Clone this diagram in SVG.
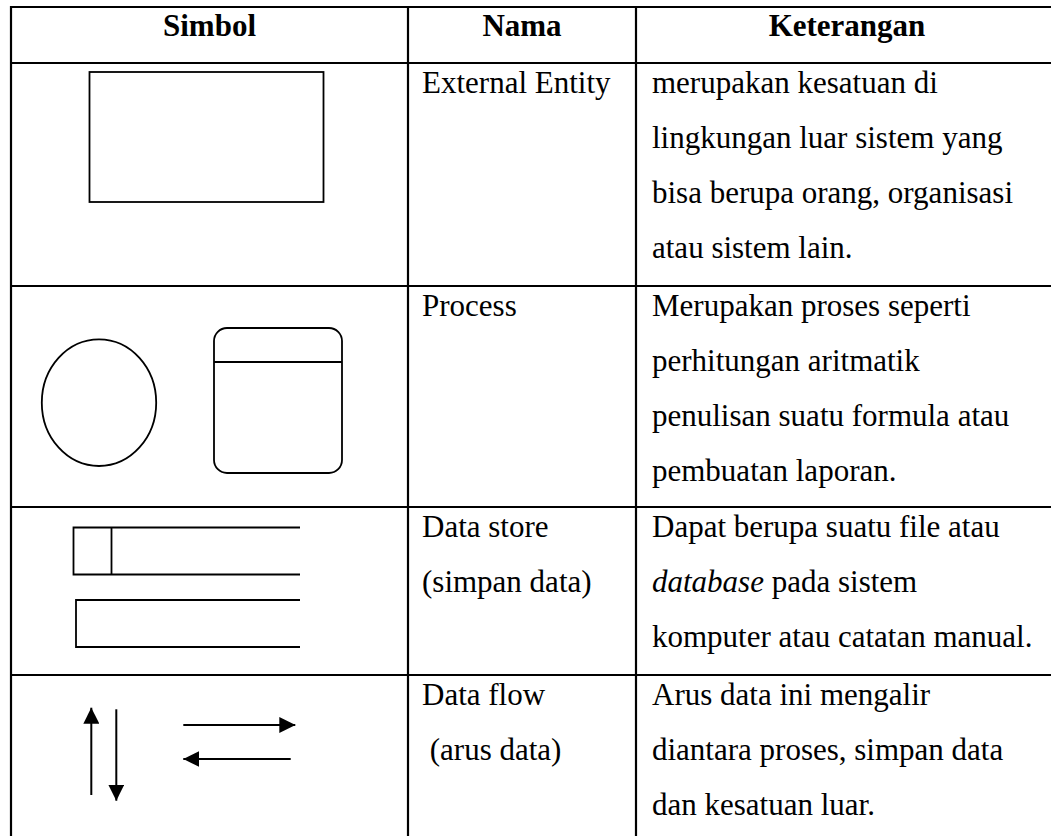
<svg xmlns="http://www.w3.org/2000/svg" width="1051" height="836" viewBox="0 0 1051 836">
<style>
.grid{stroke:#000;stroke-width:2.2;fill:none}
.shape{stroke:#000;stroke-width:1.8;fill:none}
.t{font-family:"Liberation Serif","Times New Roman",serif;font-size:31px;fill:#000}
.h{font-weight:bold;text-anchor:middle}
</style>
<defs>
<marker id="ah" viewBox="0 0 16 16" refX="16" refY="8" markerWidth="16" markerHeight="16" markerUnits="userSpaceOnUse" orient="auto">
<path d="M0,0 L16,8 L0,16 Z" fill="#000"/>
</marker>
</defs>
<rect width="1051" height="836" fill="#fff"/>
<g id="table" class="grid">
<line x1="11" y1="7" x2="1051" y2="7"/>
<line x1="11" y1="63" x2="1051" y2="63"/>
<line x1="11" y1="286" x2="1051" y2="286"/>
<line x1="11" y1="507" x2="1051" y2="507"/>
<line x1="11" y1="675" x2="1051" y2="675"/>
<line x1="11" y1="6" x2="11" y2="836"/>
<line x1="408" y1="6" x2="408" y2="836"/>
<line x1="636" y1="6" x2="636" y2="836"/>
</g>
<g id="header" class="t h">
<text x="209.5" y="36">Simbol</text>
<text x="522" y="36">Nama</text>
<text x="847" y="36">Keterangan</text>
</g>
<g id="external-entity">
<rect class="shape" x="89.5" y="72" width="234" height="130"/>
<text class="t" x="422" y="93">External Entity</text>
<text class="t" x="652" y="93">merupakan kesatuan di</text>
<text class="t" x="652" y="148">lingkungan luar sistem yang</text>
<text class="t" x="652" y="203">bisa berupa orang, organisasi</text>
<text class="t" x="652" y="258">atau sistem lain.</text>
</g>
<g id="process">
<ellipse class="shape" cx="99" cy="402.7" rx="57.2" ry="63.3"/>
<rect class="shape" x="214" y="328" width="128" height="145" rx="13" ry="13"/>
<line class="shape" x1="214" y1="362" x2="342" y2="362"/>
<text class="t" x="422" y="316">Process</text>
<text class="t" x="652" y="316">Merupakan proses seperti</text>
<text class="t" x="652" y="371">perhitungan aritmatik</text>
<text class="t" x="652" y="426">penulisan suatu formula atau</text>
<text class="t" x="652" y="481">pembuatan laporan.</text>
</g>
<g id="data-store">
<path class="shape" d="M300,527.5 L73.5,527.5 L73.5,574.5 L300,574.5 M111.5,527.5 L111.5,574.5"/>
<path class="shape" d="M300,600 L76,600 L76,647 L300,647"/>
<text class="t" x="422" y="537">Data store</text>
<text class="t" x="422" y="592">(simpan data)</text>
<text class="t" x="652" y="537">Dapat berupa suatu file atau</text>
<text class="t" x="652" y="592"><tspan font-style="italic">database</tspan> pada sistem</text>
<text class="t" x="652" y="647">komputer atau catatan manual.</text>
</g>
<g id="data-flow">
<text class="t" x="422" y="705">Data flow</text>
<text class="t" x="422" y="760" xml:space="preserve"> (arus data)</text>
<text class="t" x="652" y="705">Arus data ini mengalir</text>
<text class="t" x="652" y="760">diantara proses, simpan data</text>
<text class="t" x="652" y="815">dan kesatuan luar.</text>
</g>
<g id="connectors" stroke="#000" stroke-width="2" fill="none">
<line x1="91.3" y1="795" x2="91.3" y2="707.7" marker-end="url(#ah)"/>
<line x1="116.3" y1="709.3" x2="116.3" y2="800.7" marker-end="url(#ah)"/>
<line x1="183.3" y1="725" x2="295.3" y2="725" marker-end="url(#ah)"/>
<line x1="290.7" y1="759" x2="183.3" y2="759" marker-end="url(#ah)"/>
</g>
</svg>
